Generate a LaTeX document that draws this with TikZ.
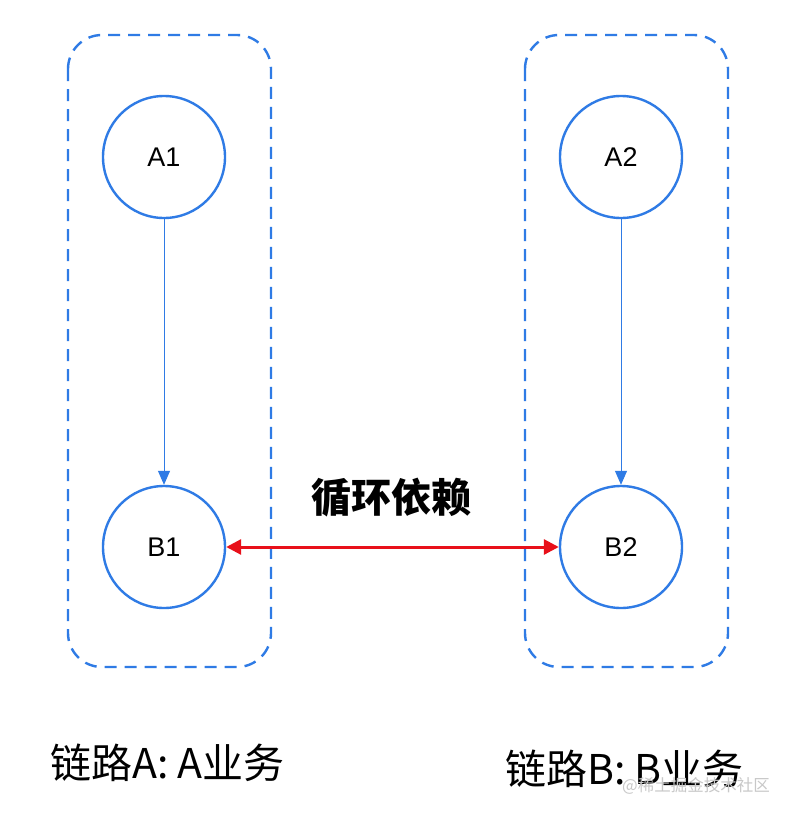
\documentclass[tikz,border=0pt]{standalone}
\usepackage{fontspec}
\setmainfont{Noto Sans CJK SC}
\newfontfamily\cjk{Noto Sans CJK SC}
\newfontfamily\latinsans{Liberation Sans}
\usetikzlibrary{arrows.meta}
\definecolor{nodeblue}{HTML}{2F7BE5}
\definecolor{depred}{HTML}{E8101A}
\definecolor{wmgray}{HTML}{C8C8C8}
\tikzset{
  groupbox/.style={draw=nodeblue, line width=2.4pt, dash pattern=on 12pt off 8pt, rounded corners=34pt},
  svc/.style={circle, draw=nodeblue, line width=2.4pt, minimum size=122pt, inner sep=0pt, font=\latinsans\fontsize{27}{30}\selectfont},
  flow/.style={draw=nodeblue, line width=1pt, -{Triangle[length=14pt,width=12pt]}},
  dep/.style={draw=depred, line width=3pt, {Triangle[length=15pt,width=15pt]}-{Triangle[length=15pt,width=15pt]}},
  biglabel/.style={font=\cjk\fontsize{41}{46}\selectfont, inner sep=0pt, anchor=base west},
}
\begin{document}
\begin{tikzpicture}[x=1pt,y=-1pt]
\useasboundingbox[fill=white] (0,0) rectangle (792,816);
\draw[groupbox] (68,35) rectangle (271,667);
\draw[groupbox] (525,35) rectangle (728,667);
\node[svc] (A1) at (164,157) {A1};
\node[svc] (B1) at (164,547) {B1};
\node[svc] (A2) at (621,157) {A2};
\node[svc] (B2) at (621,547) {B2};
\draw[flow] (A1) -- (B1);
\draw[flow] (A2) -- (B2);
\draw[dep] (B1.east) -- (B2.west);
\node[font=\cjk\bfseries\fontsize{40}{44}\selectfont, inner sep=0pt] (lbl) at (391,498) {循环依赖};
\node[biglabel] (la) at (50,778) {链路A: A业务};
\node[biglabel] (lb) at (505,784) {链路B: B业务};
\node[font=\cjk\fontsize{16.5}{19}\selectfont, text=wmgray, inner sep=0pt, anchor=base west] (wm) at (622,791) {@稀土掘金技术社区};
\end{tikzpicture}
\end{document}
